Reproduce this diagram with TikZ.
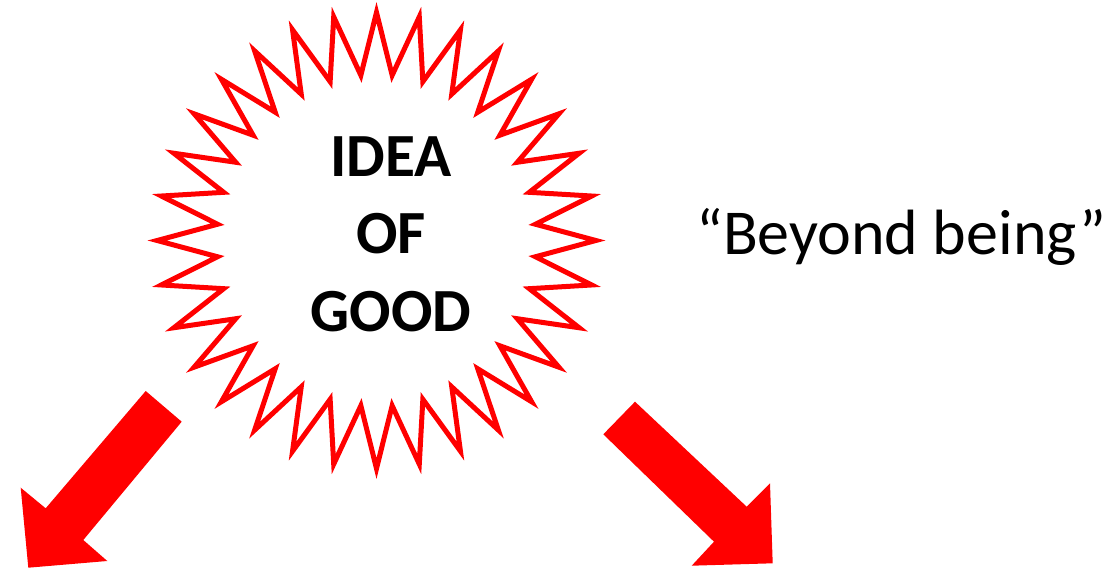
\documentclass[tikz,border=0pt]{standalone}
\usepackage{fontspec}
\setmainfont{Carlito}
\begin{document}
\begin{tikzpicture}[x=0.75pt, y=-0.75pt,
		starline/.style={draw=red, line width=3.75pt, line join=miter},
		blockarrow/.style={fill=red, draw=none}]
		\useasboundingbox (0,0) rectangle (1107,570);
		% starburst: 32 spikes, outer 228, inner 166, slightly narrower than tall
		\draw[starline] plot[samples at={0,...,63}] ({376.5+ifthenelse(mod(\x,2)==0,228,166)*0.962*sin(\x*5.625)}, {240.5-ifthenelse(mod(\x,2)==0,228,166)*cos(\x*5.625)}) -- cycle;
		\node[font=\bfseries\fontsize{46}{58}\selectfont, align=center] (good) at (391,234) {IDEA\\OF\\GOOD};
		\node[font=\fontsize{48}{58}\selectfont, anchor=base west, inner sep=0pt] (beyond) at (696,255) {“Beyond being”};
		\fill[blockarrow] (145.7,391) -- (181.7,421.7) -- (83.3,540) -- (107.3,561) -- (28.3,567.7) -- (20.7,487.7) -- (45.7,508.3) -- cycle;
		\fill[blockarrow] (635,401.7) -- (746.7,506.7) -- (770,483.3) -- (772.7,563.3) -- (691.7,565.7) -- (714,541.7) -- (603.3,434.3) -- cycle;
	\end{tikzpicture}
\end{document}
